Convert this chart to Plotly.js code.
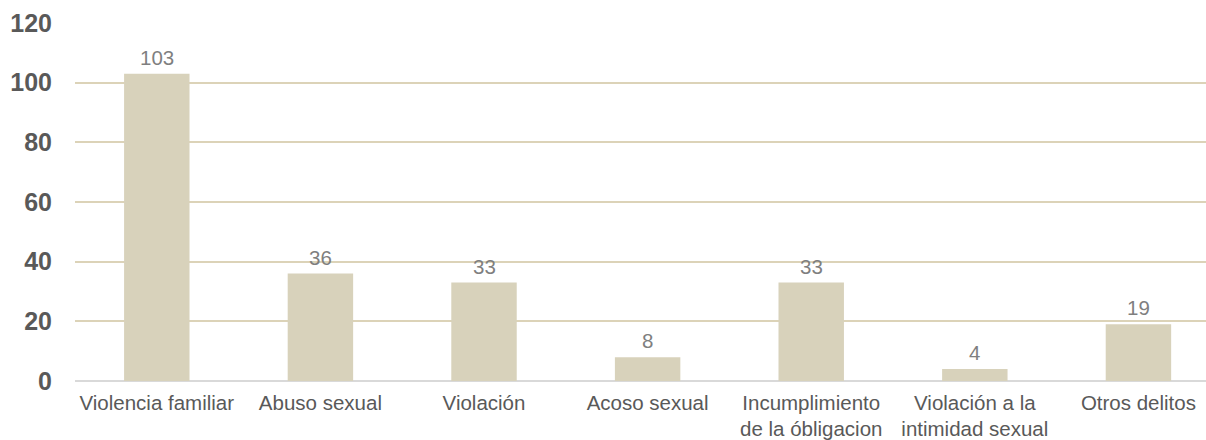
<!DOCTYPE html>
<html><head><meta charset="utf-8">
<script src="https://cdn.plot.ly/plotly-3.0.1.min.js"></script>
<style>html,body{margin:0;padding:0;background:#fff}</style>
</head><body><div id="chart" style="width:1206px;height:440px"></div>
<script>
const categories = ["Violencia familiar","Abuso sexual","Violación","Acoso sexual","Incumplimiento<br>de la óbligacion","Violación a la<br>intimidad sexual","Otros delitos"];
const values = [103, 36, 33, 8, 33, 4, 19];
const yTicks = [0, 20, 40, 60, 80, 100, 120];

const trace = {
  type: 'bar', x: categories, y: values,
  marker: {color: '#d8d2bb'},
  width: 0.4,
  hoverinfo: 'none'
};
const labels = categories.map((c, i) => ({
  x: c, y: values[i], xref: 'x', yref: 'y', text: String(values[i]),
  showarrow: false, yanchor: 'bottom', yshift: 3,
  font: {family: 'Liberation Sans, Arial, sans-serif', size: 20.5, color: '#7f7f7f'}
}));
const layout = {
  width: 1206, height: 440,
  margin: {l: 75, r: 0, t: 23, b: 59},
  paper_bgcolor: '#fff', plot_bgcolor: '#fff',
  showlegend: false,
  annotations: labels,
  xaxis: {type: 'category', range: [-0.5, 6.413], showgrid: false, showline: false, zeroline: false,
    ticks: 'outside', ticklen: 3, tickcolor: 'rgba(0,0,0,0)',
    tickfont: {family: 'Liberation Sans, Arial, sans-serif', size: 20.5, color: '#595959'}},
  yaxis: {range: [0, 120], tickvals: yTicks, ticktext: yTicks.map(String),
    showgrid: true, gridcolor: '#dcd3b8', gridwidth: 2,
    zeroline: true, zerolinecolor: '#d9d9d9', zerolinewidth: 2, showline: false,
    ticks: 'outside', ticklen: 17, tickcolor: 'rgba(0,0,0,0)',
    tickfont: {family: 'Liberation Sans, Arial, sans-serif', size: 25, color: '#595959', weight: 'bold'}}
};
Plotly.newPlot('chart', [trace], layout, {displayModeBar: false, staticPlot: true});
</script></body></html>
